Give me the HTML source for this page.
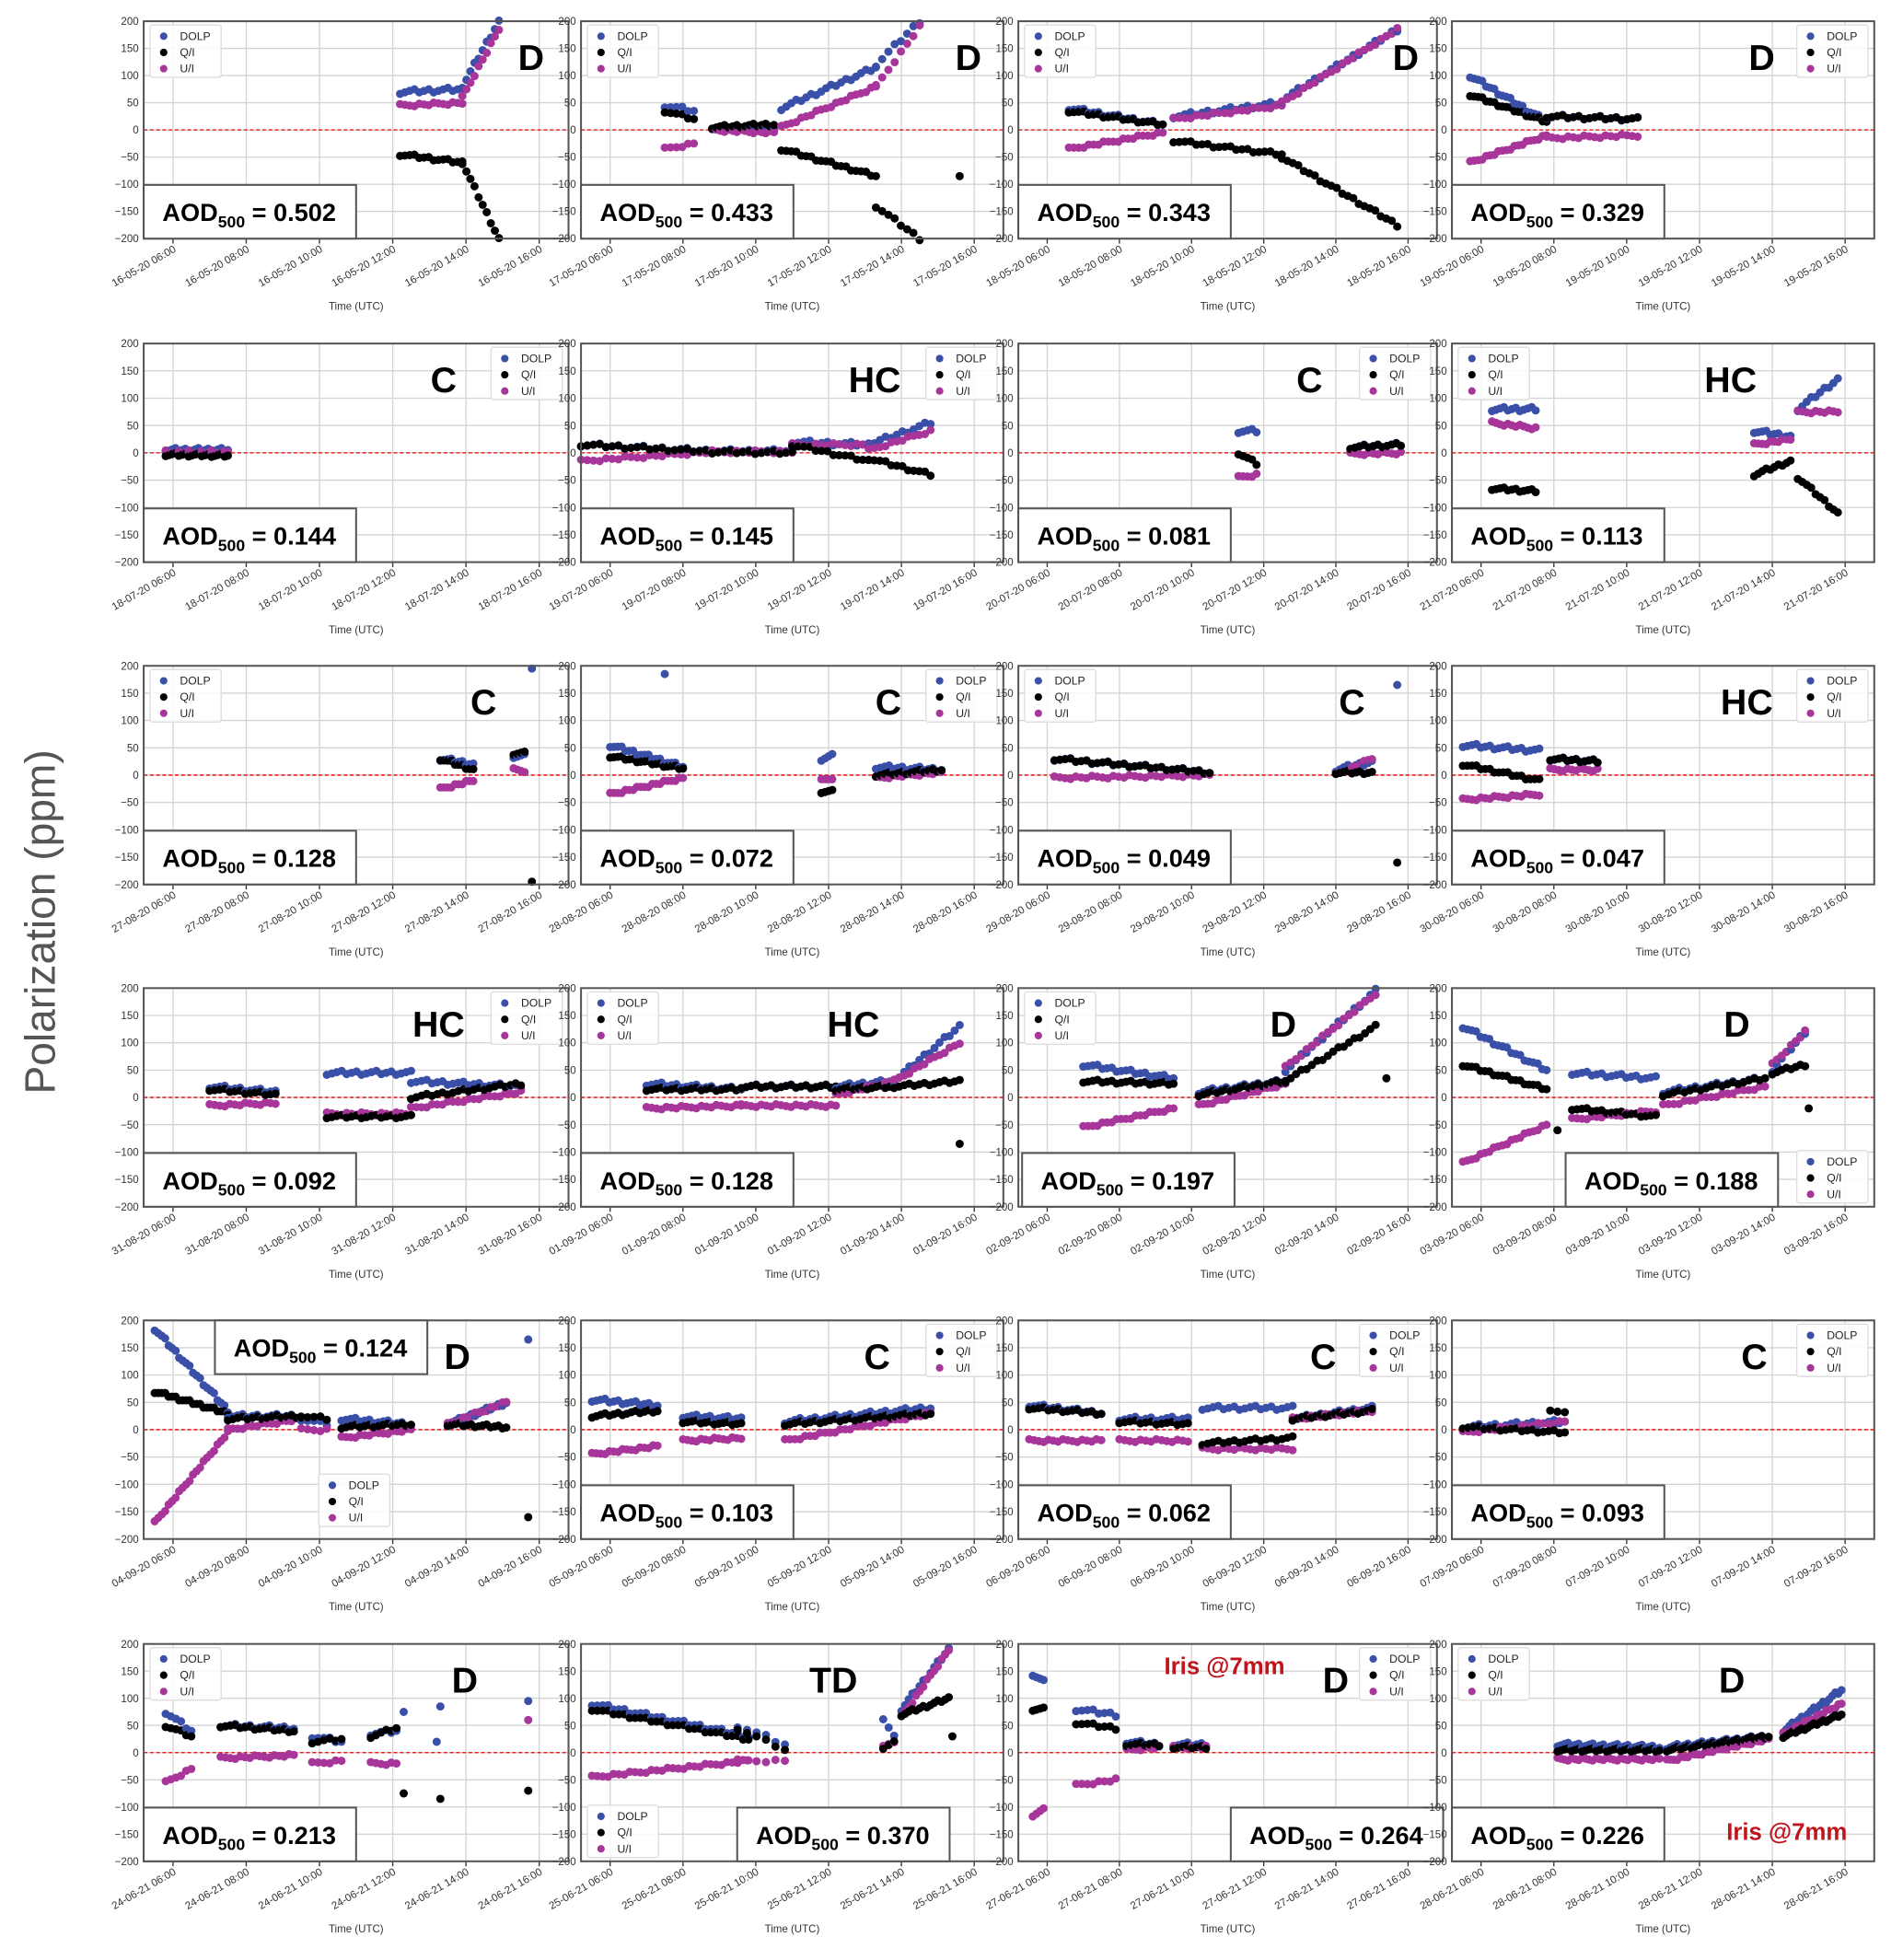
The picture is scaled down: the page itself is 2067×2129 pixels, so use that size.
<!DOCTYPE html>
<html><head><meta charset="utf-8"><style>
html,body{margin:0;padding:0;background:#fff}
svg{display:block}
text{font-family:"Liberation Sans",sans-serif}
</style></head><body>
<svg id="s" width="2067" height="2129" viewBox="0 0 1523 1569" preserveAspectRatio="none" xmlns="http://www.w3.org/2000/svg">
<rect width="1523" height="1569" fill="#fff"/>
<text x="0" y="0" transform="translate(44,738) rotate(-90)" text-anchor="middle" font-size="34" fill="#555">Polarization  (ppm)</text>
</svg>
<script>
const NS="http://www.w3.org/2000/svg",S=document.getElementById('s');
function el(t,a,txt){const e=document.createElementNS(NS,t);for(const k in a)e.setAttribute(k,a[k]);if(txt!==undefined)e.textContent=txt;S.appendChild(e);return e;}
const cols=[[115,455],[465,803],[815,1150],[1162,1500]];
const rows=[[17,191],[275,450],[533,708],[791,966],[1057,1232],[1316,1490]];
const T0=5.2,T1=16.8;
const CB="#3a4fa8",CQ="#000",CU="#a8359a";
const P=[
{d:"16-05-20",l:"D",lx:425,aod:"0.502",leg:"TL",s:[[12.2,13.9,14,70,75,-45,-60,45,50],[13.9,14.9,10,80,200,-60,-200,60,185]],e:[]},
{d:"17-05-20",l:"D",lx:775,aod:"0.433",leg:"TL",s:[[7.5,8.3,6,45,35,35,20,-35,-25],[8.8,10.5,16,5,5,5,10,0,-5],[10.7,13.3,20,40,115,-35,-85,5,80],[13.3,14.5,8,120,200,-140,-200,80,190]],e:[[15.6,-85,CQ]]},
{d:"18-05-20",l:"D",lx:1125,aod:"0.343",leg:"TL",s:[[6.6,9.2,20,40,10,35,10,-35,-5],[9.5,12.5,20,25,50,-20,-45,20,45],[12.5,15.7,22,55,185,-50,-175,50,185]],e:[]},
{d:"19-05-20",l:"D",lx:1410,aod:"0.329",leg:"TR",s:[[5.7,7.8,20,100,15,65,15,-60,-10],[7.8,10.3,18,25,20,25,20,-15,-10]],e:[]},
{d:"18-07-20",l:"C",lx:355,aod:"0.144",leg:"TR",s:[[5.8,7.5,20,5,5,-3,-5,2,2]],e:[]},
{d:"19-07-20",l:"HC",lx:700,aod:"0.145",leg:"TR",s:[[5.2,8.8,22,15,3,15,2,-15,2],[8.8,11,14,3,3,2,0,2,2],[11,13.1,14,20,15,15,-15,15,15],[13.1,14.8,12,15,55,-10,-40,5,40]],e:[]},
{d:"20-07-20",l:"C",lx:1048,aod:"0.081",leg:"TR",s:[[11.3,11.8,5,40,40,0,-20,-45,-40],[14.4,15.8,12,10,15,10,15,-2,0]],e:[]},
{d:"21-07-20",l:"HC",lx:1385,aod:"0.113",leg:"TL",s:[[6.3,7.5,12,80,80,-65,-70,55,45],[13.5,14.5,10,40,30,-40,-15,15,25],[14.7,15.8,10,80,135,-45,-110,75,75]],e:[]},
{d:"27-08-20",l:"C",lx:387,aod:"0.128",leg:"TL",s:[[13.3,14.2,10,30,20,30,10,-25,-10],[15.3,15.6,4,35,35,40,40,10,8]],e:[[15.8,195,CB],[15.8,-195,CQ]]},
{d:"28-08-20",l:"C",lx:711,aod:"0.072",leg:"TR",s:[[6,8,20,55,15,35,12,-35,-5],[11.8,12.1,4,30,35,-30,-30,-10,-5],[13.3,15.1,16,15,10,0,10,-5,5]],e:[[7.5,185,CB],[7.5,-180,CQ]]},
{d:"29-08-20",l:"C",lx:1082,aod:"0.049",leg:"TL",s:[[6.2,10.5,30,30,5,30,5,-5,0],[14,15,10,10,25,5,5,0,30]],e:[[15.7,165,CB],[15.7,-160,CQ]]},
{d:"30-08-20",l:"HC",lx:1398,aod:"0.047",leg:"TR",s:[[5.5,7.6,18,55,45,20,-10,-45,-35],[7.9,9.2,12,30,25,30,25,10,10]],e:[]},
{d:"31-08-20",l:"HC",lx:351,aod:"0.092",leg:"TR",s:[[7,8.8,14,20,10,15,5,-15,-10],[10.2,12.5,18,45,45,-35,-35,-30,-30],[12.5,15.5,22,30,20,0,25,-20,10]],e:[]},
{d:"01-09-20",l:"HC",lx:683,aod:"0.128",leg:"TL",s:[[7,9.6,20,25,15,15,15,-20,-15],[9.6,12.2,20,20,20,20,20,-15,-15],[12.2,13.8,14,20,30,15,20,5,30],[13.8,15.6,14,30,130,20,30,30,100]],e:[[15.6,-85,CQ]]},
{d:"02-09-20",l:"D",lx:1027,aod:"0.197",leg:"TL",bx:818,s:[[7,9.5,20,60,35,30,25,-55,-20],[10.2,12.6,20,10,30,5,30,-15,25],[12.6,15.1,18,50,195,30,130,55,190]],e:[[15.4,35,CQ]]},
{d:"03-09-20",l:"D",lx:1390,aod:"0.188",leg:"BR",bx:1253,s:[[5.5,7.8,20,130,50,60,15,-120,-50],[8.5,10.8,18,45,35,-20,-35,-40,-25],[11,13.8,20,10,35,5,35,-15,20],[14,14.9,8,50,120,45,60,60,120]],e:[[15,-20,CQ],[8.1,-60,CQ]]},
{d:"04-09-20",l:"D",lx:366,aod:"0.124",leg:"MID",bx:172,btop:1,s:[[5.5,7.5,22,185,35,70,30,-170,-5],[7.5,9.5,16,25,25,20,25,0,20],[9.5,10.2,5,20,10,25,20,0,0],[10.6,12.5,16,20,10,5,10,-15,0],[13.5,15.1,16,10,50,10,5,10,50]],e:[[15.7,165,CB],[15.7,-160,CQ]]},
{d:"05-09-20",l:"C",lx:702,aod:"0.103",leg:"TR",s:[[5.5,7.3,16,55,45,25,35,-45,-30],[8,9.6,14,25,20,15,10,-20,-15],[10.8,14.8,30,15,40,10,30,-20,30]],e:[]},
{d:"06-09-20",l:"C",lx:1059,aod:"0.062",leg:"TR",s:[[5.5,7.5,16,45,30,40,30,-20,-20],[8,9.9,14,20,20,15,10,-20,-20],[10.3,12.8,18,40,40,-25,-15,-35,-35],[12.8,15,18,20,40,20,35,20,35]],e:[]},
{d:"07-09-20",l:"C",lx:1404,aod:"0.093",leg:"TR",s:[[5.5,8.3,20,5,15,5,-5,-5,15]],e:[[7.9,35,CQ],[8.1,33,CQ],[8.3,32,CQ]]},
{d:"24-06-21",l:"D",lx:372,aod:"0.213",leg:"TL",s:[[5.8,6.5,6,75,40,50,30,-55,-30],[7.3,9.3,16,50,45,50,40,-10,-5],[9.8,10.6,6,30,20,20,25,-20,-15],[11.4,12.1,6,35,40,30,45,-20,-20]],e:[[12.3,75,CB],[12.3,-75,CQ],[13.3,85,CB],[13.3,-85,CQ],[13.2,20,CB],[15.7,95,CB],[15.7,60,CU],[15.7,-70,CQ]]},
{d:"25-06-21",l:"TD",lx:667,aod:"0.370",leg:"BL",bx:590,s:[[5.5,9.8,30,90,30,80,25,-45,-15],[9.5,10.8,6,50,15,45,5,-15,-15],[13.5,13.8,3,65,30,10,20,10,20],[14,15.3,14,80,190,70,100,65,190]],e:[[15.4,30,CQ]]},
{d:"27-06-21",l:"D",lx:1069,aod:"0.264",leg:"TR",bx:985,iris:[980,1340],s:[[5.6,5.9,4,145,130,80,80,-120,-100],[6.8,7.9,8,80,70,55,45,-60,-50],[8.2,9.1,8,20,15,15,15,5,10],[9.5,10.4,8,15,15,10,10,10,10]],e:[]},
{d:"28-06-21",l:"D",lx:1386,aod:"0.226",leg:"TL",iris:[1430,1473],s:[[8.1,10.9,30,15,10,5,5,-12,-12],[11.1,13.9,30,10,30,5,30,-15,25],[14.3,15.9,20,40,115,30,70,35,90]],e:[]}
];
P.forEach((p,i)=>{
 const [x0,x1]=cols[i%4],[y0,y1]=rows[Math.floor(i/4)];
 const X=t=>x0+(t-T0)/(T1-T0)*(x1-x0), Y=v=>y0+(200-v)/400*(y1-y0);
 for(let v=-200;v<=200;v+=50){el('line',{x1:x0,x2:x1,y1:Y(v),y2:Y(v),stroke:'#d4d4d4','stroke-width':1});
  el('text',{x:x0-4,y:Y(v)+3,'text-anchor':'end','font-size':8.5,fill:'#333'},(v<0?'\u2212':'')+Math.abs(v));}
 for(let h=6;h<=16;h+=2){const x=X(h);el('line',{x1:x,x2:x,y1:y0,y2:y1,stroke:'#d4d4d4','stroke-width':1});
  el('line',{x1:x,x2:x,y1:y1,y2:y1+4,stroke:'#333','stroke-width':1});
  const hh=(h<10?'0':'')+h+':00';
  el('text',{x:0,y:0,transform:`translate(${x+3},${y1+10}) rotate(-30)`,'text-anchor':'end','font-size':8.5,fill:'#333'},p.d+' '+hh);}
 el('text',{x:(x0+x1)/2,y:y1+57,'text-anchor':'middle','font-size':8.5,fill:'#333'},'Time (UTC)');
 el('line',{x1:x0,x2:x1,y1:Y(0),y2:Y(0),stroke:'#e00','stroke-width':1,'stroke-dasharray':'3,2'});
 const dot=(t,v,c)=>{if(v>205||v<-205)return;el('circle',{cx:X(t),cy:Y(v),r:3.3,fill:c});};
 p.s.forEach(g=>{const [a,b,n,d0,d1,q0,q1,u0,u1]=g;for(let k=0;k<n;k++){const f=n>1?k/(n-1):0,t=a+(b-a)*f,w=((k*37)%7-3)*1.2;
  dot(t,d0+(d1-d0)*f+w,CB);dot(t,u0+(u1-u0)*f-w*0.7,CU);dot(t,q0+(q1-q0)*f+w*0.8,CQ);}});
 p.e.forEach(z=>dot(z[0],z[1],z[2]));
 el('rect',{x:x0,y:y0,width:x1-x0,height:y1-y0,fill:'none',stroke:'#555','stroke-width':1.5});
 el('text',{x:p.lx,y:y0+39,'text-anchor':'middle','font-size':29,'font-weight':'bold',fill:'#000'},p.l);
 // legend
 let lx,ly;
 if(p.leg=='TL'){lx=x0+5;ly=y0+3}else if(p.leg=='TR'){lx=x1-62;ly=y0+3}else if(p.leg=='BR'){lx=x1-62;ly=y1-45}else if(p.leg=='BL'){lx=x0+5;ly=y1-45}else{lx=x0+140;ly=y0+123}
 el('rect',{x:lx,y:ly,width:57,height:42,fill:'#fff','fill-opacity':0.85,stroke:'#ddd',rx:2});
 [['DOLP',CB],['Q/I',CQ],['U/I',CU]].forEach((q,j)=>{el('circle',{cx:lx+11,cy:ly+9+j*13,r:3,fill:q[1]});el('text',{x:lx+24,y:ly+12+j*13,'font-size':9,fill:'#222'},q[0]);});
 // AOD box
 const bx=p.bx||x0, by=p.btop?y0:y1-43;
 el('rect',{x:bx,y:by,width:170,height:43,fill:'#fff',stroke:'#555','stroke-width':1.5});
 const t=el('text',{x:bx+15,y:by+29,'font-size':20,'font-weight':'bold',fill:'#000'});
 const a1=document.createElementNS(NS,'tspan');a1.textContent='AOD';t.appendChild(a1);
 const a2=document.createElementNS(NS,'tspan');a2.setAttribute('font-size',13);a2.setAttribute('dy',5);a2.textContent='500';t.appendChild(a2);
 const a3=document.createElementNS(NS,'tspan');a3.setAttribute('dy',-5);a3.textContent=' = '+p.aod;t.appendChild(a3);
 if(p.iris)el('text',{x:p.iris[0],y:p.iris[1],'text-anchor':'middle','font-size':19,'font-weight':'bold',fill:'#c0141c'},'Iris @7mm');
});
</script>
</body></html>
